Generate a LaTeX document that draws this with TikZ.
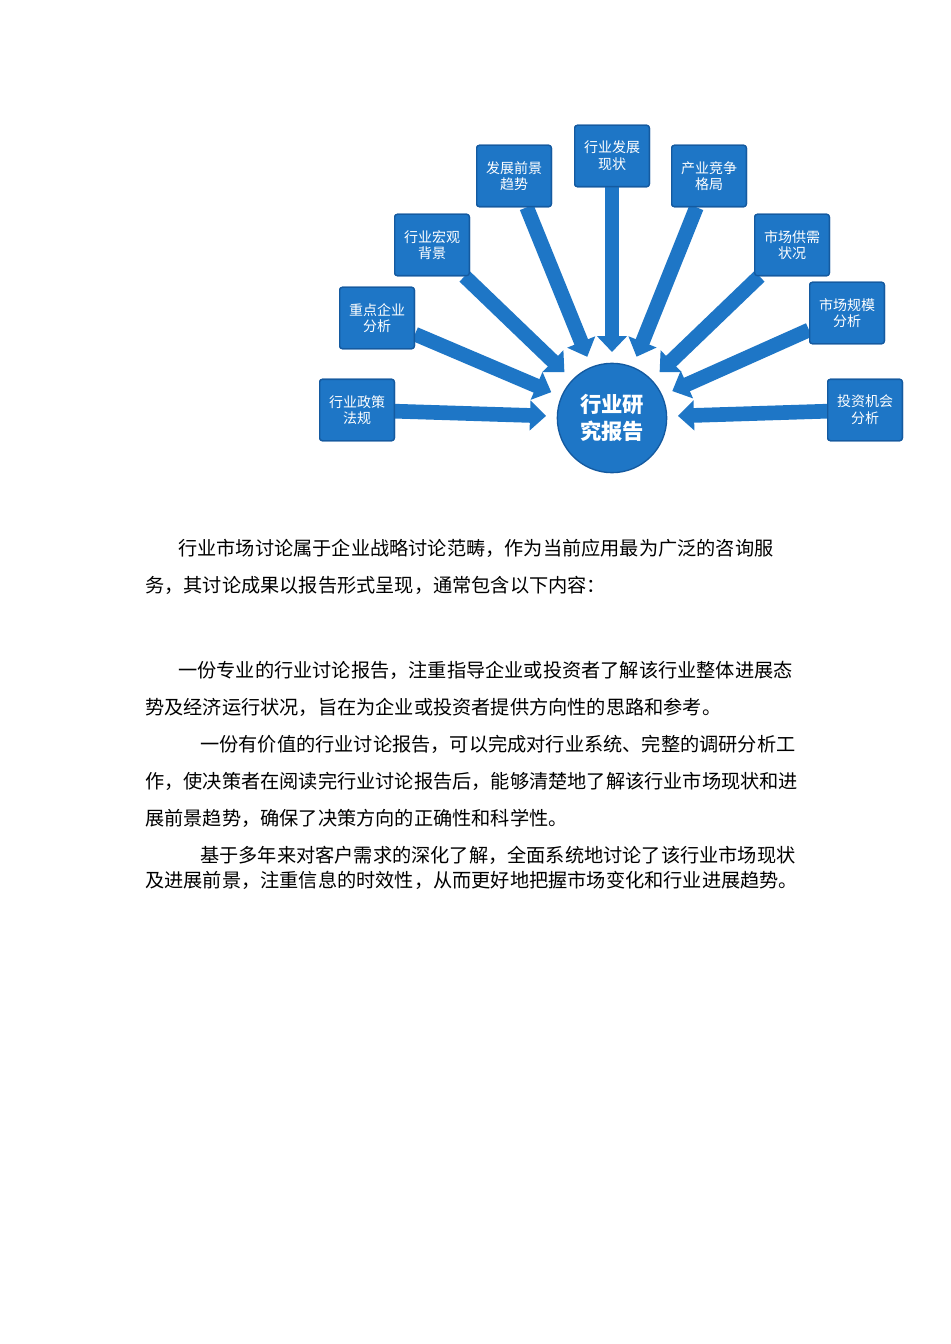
\documentclass[tikz,border=0pt]{standalone}
\usepackage{fontspec}
\newfontfamily\cjk{Noto Sans CJK SC}
\usetikzlibrary{arrows.meta}
\definecolor{bl}{RGB}{30,118,198}
\definecolor{bld}{RGB}{20,90,160}
\begin{document}
\begin{tikzpicture}[x=0.75pt,y=-0.75pt,
 box/.style={rectangle,rounded corners=2pt,fill=bl,draw=bld,line width=1pt,minimum width=56pt,minimum height=46pt,text=white,font=\cjk\fontsize{10.5}{12.5}\selectfont,align=center,inner sep=1pt},
 hub/.style={circle,fill=bl,draw=bld,line width=1pt,minimum size=82pt,text=white,font=\cjk\bfseries\fontsize{16}{20}\selectfont,align=center,inner sep=0pt},
 arr/.style={-{Triangle[width=22pt,length=12pt]},draw=bl,line width=11pt,shorten >=8pt},
 para/.style={anchor=west,font=\cjk\fontsize{14.4}{16}\selectfont,inner sep=0pt}]
\useasboundingbox (0,0) rectangle (950,1344);
\fill[white] (0,0) rectangle (950,1344);
\node[hub] (c) at (612,418) {行业研\\究报告};
\node[box] (b1) at (357,410) {};
\node[box] (b2) at (377,318) {};
\node[box] (b3) at (432,245) {};
\node[box] (b4) at (514,176) {};
\node[box] (b5) at (612,156) {};
\node[box] (b6) at (709,176) {};
\node[box] (b7) at (792,245) {};
\node[box] (b8) at (847,313) {};
\node[box] (b9) at (865,410) {};
\foreach \b in {b1,b2,b3,b4,b5,b6,b7,b8,b9}{\draw[arr] (\b) -- (c);}
\node[box] at (b1) {行业政策\\法规};
\node[box] at (b2) {重点企业\\分析};
\node[box] at (b3) {行业宏观\\背景};
\node[box] at (b4) {发展前景\\趋势};
\node[box] at (b5) {行业发展\\现状};
\node[box] at (b6) {产业竞争\\格局};
\node[box] at (b7) {市场供需\\状况};
\node[box] at (b8) {市场规模\\分析};
\node[box] at (b9) {投资机会\\分析};
\node[para] (p1) at (178,548) {行业市场讨论属于企业战略讨论范畴，作为当前应用最为广泛的咨询服};
\node[para] (p2) at (145,585) {务，其讨论成果以报告形式呈现，通常包含以下内容：};
\node[para] (p3) at (178,670) {一份专业的行业讨论报告，注重指导企业或投资者了解该行业整体进展态};
\node[para] (p4) at (145,707) {势及经济运行状况，旨在为企业或投资者提供方向性的思路和参考。};
\node[para] (p5) at (200,744) {一份有价值的行业讨论报告，可以完成对行业系统、完整的调研分析工};
\node[para] (p6) at (145,781) {作，使决策者在阅读完行业讨论报告后，能够清楚地了解该行业市场现状和进};
\node[para] (p7) at (145,818) {展前景趋势，确保了决策方向的正确性和科学性。};
\node[para] (p8) at (200,855) {基于多年来对客户需求的深化了解，全面系统地讨论了该行业市场现状};
\node[para] (p9) at (145,880) {及进展前景，注重信息的时效性，从而更好地把握市场变化和行业进展趋势。};
\end{tikzpicture}
\end{document}
